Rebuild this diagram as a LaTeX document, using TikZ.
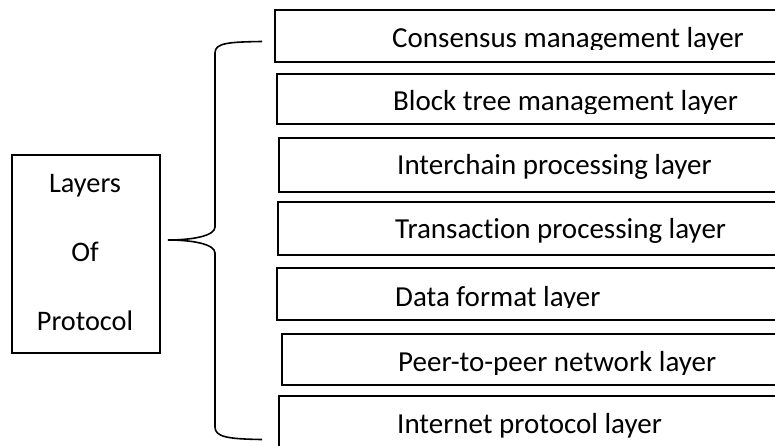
\documentclass[tikz,border=0pt]{standalone}
\usepackage{fontspec}
\setmainfont{Carlito}[Ligatures=NoCommon]
\usepackage{tikz}
\usetikzlibrary{positioning}
\tikzset{
  capa/.style={draw=black,line width=1.8pt,fill=none,anchor=north west,inner sep=0pt,minimum width=560pt},
  texto/.style={anchor=base west,inner sep=0pt,font=\fontsize{29}{34}\selectfont},
  titulo/.style={anchor=base,inner sep=0pt,font=\fontsize{28.3}{34}\selectfont},
  caja/.style={draw=black,line width=1.6pt,anchor=north west,inner sep=0pt,minimum width=148pt,minimum height=198pt},
  llave/.style={draw=black,line width=1.6pt},
}
\begin{document}
\begin{tikzpicture}[x=1pt,y=-1pt]
\useasboundingbox (0,0) rectangle (775,446);
\clip (0,0) rectangle (775,446);
\node[caja] (prot) at (11,154) {};
\node[titulo] (t1) at (85,193) {Layers};
\node[titulo] (t2) at (85,261.5) {Of};
\node[titulo] (t3) at (85,330) {Protocol};
\coordinate (punta) at (168,240);
\coordinate (arriba) at (262,41.5);
\coordinate (abajo) at (262,439.5);
\draw[llave] (arriba) .. controls (228,42) and (215,43) .. (215,53) -- (215,227)
  .. controls (215,236) and (192,240) .. (punta)
  .. controls (192,240) and (215,244) .. (215,253) -- (215,427)
  .. controls (215,437) and (228,439) .. (abajo);
\node[capa,minimum height=52pt] (k1) at (274,9) {};
\node[capa,minimum height=50pt] (k2) at (276,73) {};
\node[capa,minimum height=54pt] (k3) at (278,137) {};
\node[capa,minimum height=53pt] (k4) at (277,201) {};
\node[capa,minimum height=52pt] (k5) at (276,267) {};
\node[capa,minimum height=51pt] (k6) at (281,333) {};
\node[capa,minimum height=80pt] (k7) at (278,395) {};
\begin{scope}
\clip (274,9) rectangle (775,50);
\node[texto] (l1) at (392,47.3) {Consensus management layer};
\end{scope}
\begin{scope}
\clip (276,73) rectangle (775,114);
\node[texto] (l2) at (393,110.8) {Block tree management layer};
\end{scope}
\node[texto] (l3) at (397,175) {Interchain processing layer};
\node[texto] (l4) at (395,238) {Transaction processing layer};
\begin{scope}
\clip (276,267) rectangle (775,307.3);
\node[texto] (l5) at (395,306.5) {Data format layer};
\end{scope}
\begin{scope}
\clip (281,333) rectangle (775,374);
\node[texto] (l6) at (398,371.5) {Peer-to-peer network layer};
\end{scope}
\node[texto] (l7) at (397,433) {Internet protocol layer};
\end{tikzpicture}
\end{document}
